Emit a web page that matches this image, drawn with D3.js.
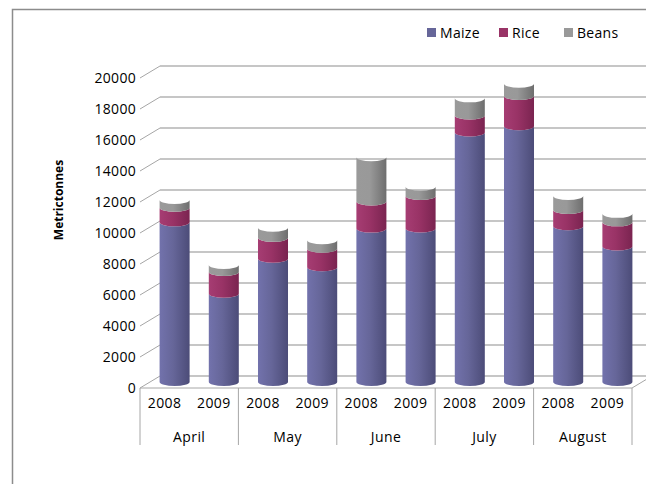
<!DOCTYPE html>
<html>
<head>
<meta charset="utf-8">
<script src="https://cdn.jsdelivr.net/npm/d3@7/dist/d3.min.js"></script>
<style>
  body { margin: 0; background: #fff; }
  text { font-family: "Open Sans", "Liberation Sans", sans-serif; fill: #000; }
</style>
</head>
<body>
<div id="chart"></div>
<script>
// data
var months = ["April", "May", "June", "July", "August"];
var years = ["2008", "2009"];
var seriesNames = ["Maize", "Rice", "Beans"];
var maize = [10300, 5700, 7950, 7400, 9900, 9900, 16100, 16500, 10050, 8750];
var rice  = [950, 1400, 1350, 1200, 1750, 2100, 1100, 1950, 1050, 1550];
var beans = [500, 450, 650, 550, 2850, 600, 1100, 800, 900, 550];
var yTicks = [0, 2000, 4000, 6000, 8000, 10000, 12000, 14000, 16000, 18000, 20000];

var colors = {
  Maize: ["#7272ac", "#4c4c78", "#666699"],
  Rice:  ["#a63d73", "#7a2450", "#993366"],
  Beans: ["#9a9a9a", "#6e6e6e", "#999999"]
};

// categories: one per month/year pair
var cats = [];
months.forEach(function(m) { years.forEach(function(yr) { cats.push(m + "|" + yr); }); });

var rows = cats.map(function(c, i) {
  return {cat: c, Maize: maize[i], Rice: rice[i], Beans: beans[i]};
});
var stacked = d3.stack().keys(seriesNames)(rows);

var W = 646, H = 484;
var depthX = 20, depthY = -12;

var svg = d3.select("#chart").append("svg")
  .attr("width", W).attr("height", H);

// gradients for cylinder shading
var defs = svg.append("defs");
seriesNames.forEach(function(s) {
  var g = defs.append("linearGradient").attr("id", "g" + s)
    .attr("x1", "0").attr("x2", "1").attr("y1", "0").attr("y2", "0");
  g.append("stop").attr("offset", "0%").attr("stop-color", colors[s][0]);
  g.append("stop").attr("offset", "45%").attr("stop-color", colors[s][2]);
  g.append("stop").attr("offset", "100%").attr("stop-color", colors[s][1]);
});

// chart frame
svg.append("rect")
  .attr("x", 12.5).attr("y", 9.5)
  .attr("width", 700).attr("height", 600)
  .attr("fill", "none").attr("stroke", "#8c8c8c").attr("stroke-width", 1.5);

var x = d3.scaleBand().domain(cats).range([140, 632])
  .paddingInner(0.39).paddingOuter(0.195);
var xMonth = d3.scaleBand().domain(months).range([140, 632]);
var y = d3.scaleLinear().domain([0, 20000]).range([388, 78]);

var grid = svg.append("g");
// back wall gridlines
grid.selectAll(".back").data(yTicks).enter().append("line")
  .attr("x1", 140 + depthX).attr("x2", 632 + depthX)
  .attr("y1", function(d) { return y(d) + depthY; })
  .attr("y2", function(d) { return y(d) + depthY; })
  .attr("stroke", "#b3b3b3").attr("stroke-width", 1.5);
// side wall oblique lines
grid.selectAll(".side").data(yTicks).enter().append("line")
  .attr("x1", 140).attr("x2", 140 + depthX)
  .attr("y1", function(d) { return y(d); })
  .attr("y2", function(d) { return y(d) + depthY; })
  .attr("stroke", "#a6a6a6").attr("stroke-width", 1);
// floor
grid.append("line").attr("x1", 140).attr("x2", 632).attr("y1", y(0)).attr("y2", y(0))
  .attr("stroke", "#a6a6a6").attr("stroke-width", 1);
grid.append("line").attr("x1", 632).attr("x2", 632 + depthX).attr("y1", y(0)).attr("y2", y(0) + depthY)
  .attr("stroke", "#a6a6a6").attr("stroke-width", 1);

// y axis labels
var yAxis = d3.axisLeft(y).tickValues(yTicks).tickSize(0).tickPadding(4)
  .tickFormat(d3.format("d"));
var ya = svg.append("g").attr("transform", "translate(140,0)").call(yAxis);
ya.select(".domain").remove();
ya.selectAll("text").style("font-family", "Open Sans, sans-serif")
  .style("font-size", "14px").style("letter-spacing", "0.3px").attr("fill", "#000");

svg.append("text")
  .attr("transform", "translate(63," + 200 + ") rotate(-90)")
  .attr("text-anchor", "middle")
  .style("font-size", "12px").style("font-weight", "bold")
  .text("Metrictonnes");

// cylinders
var bw = x.bandwidth(), rx = bw / 2, ry = 4;
var shift = function(c) { return x(c) + depthX / 2; };
function segPath(x0, yb, yt) {
  return "M" + x0 + "," + yt +
    " A" + rx + "," + ry + " 0 0 0 " + (x0 + bw) + "," + yt +
    " L" + (x0 + bw) + "," + yb +
    " A" + rx + "," + ry + " 0 0 1 " + x0 + "," + yb + " Z";
}
var bars = svg.append("g");
stacked.forEach(function(layer) {
  bars.selectAll(".s" + layer.key).data(layer).enter().append("path")
    .attr("d", function(d) {
      return segPath(shift(d.data.cat), y(d[0]) + depthY / 2, y(d[1]) + depthY / 2);
    })
    .attr("fill", "url(#g" + layer.key + ")");
});
// top caps
var top = stacked[stacked.length - 1];
bars.selectAll(".cap").data(top).enter().append("ellipse")
  .attr("cx", function(d) { return shift(d.data.cat) + rx; })
  .attr("cy", function(d) { return y(d[1]) + depthY / 2; })
  .attr("rx", rx).attr("ry", ry)
  .attr("fill", "#838383").attr("stroke", "#a3a3a3").attr("stroke-width", 0.8);

// x axis: years and months
var xa = svg.append("g");
xa.selectAll(".yr").data(cats).enter().append("text")
  .attr("x", function(c) { return x(c) + bw / 2; })
  .attr("y", 408)
  .attr("text-anchor", "middle")
  .style("font-size", "14px").style("letter-spacing", "0.4px")
  .text(function(c) { return c.split("|")[1]; });
xa.selectAll(".mo").data(months).enter().append("text")
  .attr("x", function(m) { return xMonth(m) + xMonth.bandwidth() / 2; })
  .attr("y", 442)
  .attr("text-anchor", "middle")
  .style("font-size", "14px").style("letter-spacing", "0.4px")
  .text(function(m) { return m; });
xa.selectAll(".sep").data(months.concat(["end"])).enter().append("line")
  .attr("x1", function(m, i) { return 140 + i * xMonth.step(); })
  .attr("x2", function(m, i) { return 140 + i * xMonth.step(); })
  .attr("y1", 388).attr("y2", 445)
  .attr("stroke", "#a6a6a6").attr("stroke-width", 1);

// legend
var legX = [427, 499, 564];
var leg = svg.append("g");
seriesNames.forEach(function(s, i) {
  leg.append("rect").attr("x", legX[i]).attr("y", 28).attr("width", 9).attr("height", 9)
    .attr("fill", colors[s][2]);
  leg.append("text").attr("x", legX[i] + 13).attr("y", 37.5)
    .style("font-size", "14px").style("letter-spacing", "0.3px").text(s);
});
</script>
</body>
</html>
